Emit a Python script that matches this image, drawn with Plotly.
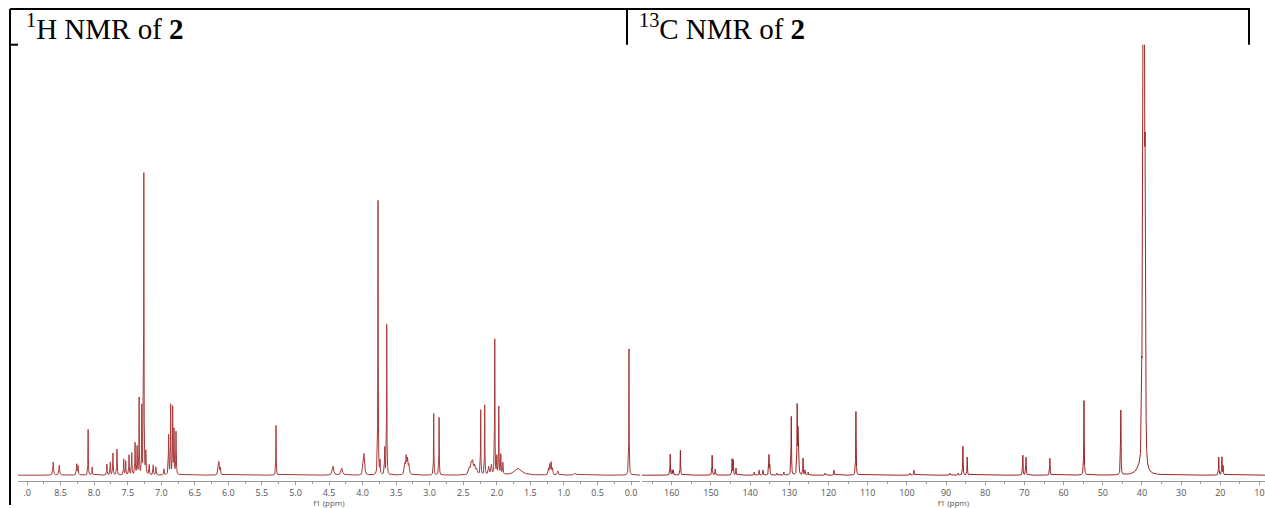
import numpy as np
import plotly.graph_objects as go

# ---------------- data ----------------
# 1H NMR peaks: chemical shift (ppm), intensity (arb.), half-width (ppm)
H_PPM = [8.61, 8.52, 8.26, 8.24, 8.09, 8.03, 7.81, 7.76, 7.72, 7.66, 7.56, 7.53,
         7.48, 7.44, 7.39, 7.36, 7.33, 7.29, 7.26, 7.23, 7.18, 7.12, 7.08, 6.96,
         6.89, 6.86, 6.83, 6.81, 6.78, 6.15, 6.14, 6.12, 5.29, 4.44, 4.31,
         3.99, 3.98, 3.97, 3.77, 3.74, 3.67, 3.64, 3.37, 3.35, 3.33, 3.31,
         2.94, 2.86, 2.41, 2.38, 2.36, 2.33, 2.30, 2.24, 2.18, 2.12, 2.08,
         2.03, 2.00, 1.97, 1.94, 1.91, 1.68, 1.23, 1.21, 1.19, 1.17, 1.09,
         0.83, 0.03]
H_INT = [13, 10, 11, 9, 46, 8, 11, 13, 22, 26, 16, 14,
         20, 22, 32, 28, 77, 68, 303, 22, 10, 10, 8, 6,
         40, 70, 67, 45, 43, 8, 11, 7, 50, 9, 7,
         12, 15, 13, 276, 13, 27, 151, 10, 17, 14, 9,
         62, 58, 6, 10, 11, 8, 5, 65, 70, 8, 10,
         136, 18, 68, 20, 12, 7, 6, 10, 12, 6, 4,
         2, 127]
H_HW = [0.006, 0.006, 0.005, 0.005, 0.003, 0.004, 0.004, 0.004, 0.004, 0.004, 0.004, 0.004,
        0.004, 0.004, 0.004, 0.004, 0.003, 0.003, 0.003, 0.004, 0.004, 0.004, 0.004, 0.004,
        0.004, 0.003, 0.003, 0.004, 0.004, 0.006, 0.006, 0.006, 0.003, 0.012, 0.012,
        0.006, 0.006, 0.006, 0.003, 0.004, 0.004, 0.003, 0.008, 0.008, 0.008, 0.008,
        0.003, 0.003, 0.012, 0.012, 0.012, 0.012, 0.012, 0.003, 0.003, 0.008, 0.008,
        0.003, 0.004, 0.003, 0.004, 0.005, 0.06, 0.006, 0.006, 0.006, 0.006, 0.008,
        0.02, 0.003]

# 13C NMR peaks: chemical shift (ppm), intensity, half-width (ppm)
C_PPM = [160.4, 159.9, 159.6, 157.8, 149.7, 148.9, 144.6, 144.3, 143.6, 139.0,
         137.7, 136.7, 135.2, 135.0, 133.2, 131.4, 129.5, 128.0, 127.8, 127.6,
         126.5, 126.0, 125.2, 120.9, 118.6, 113.0, 99.2, 98.2, 89.0, 86.9, 85.7,
         84.6, 70.4, 69.6, 63.5, 54.8, 45.4, 40.6, 40.06, 39.89, 39.72, 39.56,
         39.39, 39.22, 39.05, 20.4, 19.6, 19.3]
C_INT = [21, 5, 5, 25, 20, 6, 16, 15, 7, 3,
         5, 5, 20, 10, 2, 3, 59, 68, 41, 31,
         17, 5, 3, 2, 5, 64, 2, 5, 2, 2, 29,
         18, 20, 18, 17, 75, 65, 6, 60, 195, 480, 720,
         620, 275, 100, 18, 18, 9]
C_HW = [0.06] * 37 + [0.9] + [0.06] * 7 + [0.06] * 3

# axis ranges and ticks
H_RANGE = [9.135, -0.134]
C_RANGE = [167.6, 8.6]
H_TICKS = [9.0, 8.5, 8.0, 7.5, 7.0, 6.5, 6.0, 5.5, 5.0, 4.5, 4.0, 3.5, 3.0, 2.5,
           2.0, 1.5, 1.0, 0.5, 0.0]
H_TICK_TEXT = [".0", "8.5", "8.0", "7.5", "7.0", "6.5", "6.0", "5.5", "5.0", "4.5",
               "4.0", "3.5", "3.0", "2.5", "2.0", "1.5", "1.0", "0.5", "0.0"]
C_TICKS = [160, 150, 140, 130, 120, 110, 100, 90, 80, 70, 60, 50, 40, 30, 20, 10]
C_TICK_TEXT = [str(v) for v in C_TICKS]

TITLE_H = "<sup>1</sup>H NMR of <b>2</b>"
TITLE_C = "<sup>13</sup>C NMR of <b>2</b>"
AXIS_TITLE = "f1 (ppm)"


def spectrum(ppm, inten, hw, rng, n):
    grid = np.linspace(min(rng), max(rng), n)
    x = np.unique(np.concatenate([grid, np.array(ppm)]))
    y = np.zeros_like(x)
    for p, h, w in zip(ppm, inten, hw):
        y += h * w * w / ((x - p) ** 2 + w * w)
    return x, y


W, H = 1265, 508


def px(x):
    return x / W


def py(y):
    return 1 - y / H


hx, hy = spectrum(H_PPM, H_INT, H_HW, H_RANGE, 14000)
cx, cy = spectrum(C_PPM, C_INT, C_HW, C_RANGE, 16000)

fig = go.Figure()
fig.add_trace(go.Scatter(x=hx, y=hy, mode="lines", line=dict(color="#a83a3a", width=1),
                         xaxis="x", yaxis="y", showlegend=False, hoverinfo="skip"))
fig.add_trace(go.Scatter(x=cx, y=cy, mode="lines", line=dict(color="#9c2424", width=1),
                         xaxis="x2", yaxis="y2", showlegend=False, hoverinfo="skip"))

ydom = [py(484), py(45)]
axis_common = dict(showline=True, linecolor="#9a9a9a", linewidth=1, ticks="outside",
                   ticklen=3, tickcolor="#9a9a9a", showgrid=False, zeroline=False,
                   tickfont=dict(family="Open Sans", size=9, color="#555555"),
                   title=dict(text=AXIS_TITLE, font=dict(family="Open Sans", size=8,
                                                         color="#555555"), standoff=3))
fig.update_layout(
    width=W, height=H, margin=dict(l=0, r=0, t=0, b=0, pad=0),
    paper_bgcolor="white", plot_bgcolor="white",
    xaxis=dict(domain=[px(18), px(640)], range=H_RANGE, anchor="y",
               tickmode="array", tickvals=H_TICKS, ticktext=H_TICK_TEXT,
               minor=dict(dtick=0.25, tick0=0, ticks="outside", ticklen=2,
                          tickcolor="#9a9a9a"), **axis_common),
    yaxis=dict(domain=ydom, range=[-6, 433], visible=False),
    xaxis2=dict(domain=[px(642), 1], range=C_RANGE, anchor="y2",
                tickmode="array", tickvals=C_TICKS, ticktext=C_TICK_TEXT,
                minor=dict(dtick=5, tick0=0, ticks="outside", ticklen=2,
                           tickcolor="#9a9a9a"), **axis_common),
    yaxis2=dict(domain=ydom, range=[-6, 433], visible=False),
)

# table borders
black = dict(color="black", width=2)
shapes = [
    dict(type="line", xref="paper", yref="paper", x0=px(10), x1=px(1250), y0=py(9), y1=py(9), line=black),
    dict(type="line", xref="paper", yref="paper", x0=px(10), x1=px(10), y0=py(9), y1=py(508), line=black),
    dict(type="line", xref="paper", yref="paper", x0=px(10), x1=px(18), y0=py(45), y1=py(45), line=black),
    dict(type="line", xref="paper", yref="paper", x0=px(627), x1=px(627), y0=py(9), y1=py(45), line=black),
    dict(type="line", xref="paper", yref="paper", x0=px(1249), x1=px(1249), y0=py(9), y1=py(45), line=black),
]
fig.update_layout(shapes=shapes)

title_font = dict(family="Liberation Serif", size=29, color="black")
fig.add_annotation(text=TITLE_H, x=px(24), y=py(27), xref="paper", yref="paper",
                   xanchor="left", yanchor="middle", showarrow=False, font=title_font)
fig.add_annotation(text=TITLE_C, x=px(637), y=py(27), xref="paper", yref="paper",
                   xanchor="left", yanchor="middle", showarrow=False, font=title_font)

fig.write_html("out.html")
